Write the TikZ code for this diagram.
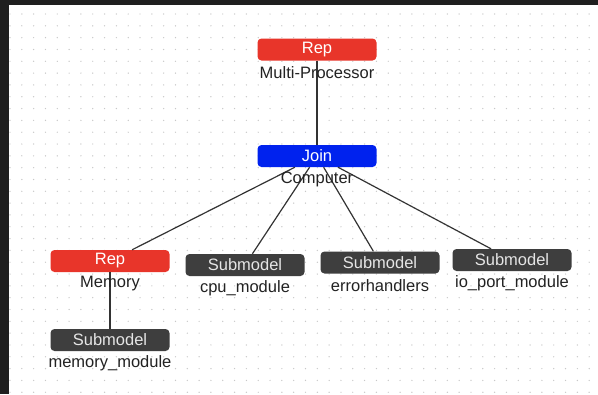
\documentclass[tikz,border=0pt]{standalone}
\usepackage{fontspec}
\setmainfont{Liberation Sans}
\definecolor{frame}{HTML}{1F1F1F}
\definecolor{repred}{HTML}{E8352A}
\definecolor{joinblue}{HTML}{0022EE}
\definecolor{subgray}{HTML}{3E3E3E}
\definecolor{griddot}{HTML}{C8C8C8}
\definecolor{edge}{HTML}{333333}
\definecolor{labeltext}{HTML}{222222}
\tikzset{
  box/.style={rectangle, rounded corners=4bp, minimum width=119bp, minimum height=22bp,
    inner sep=0pt, text=white, font=\fontsize{16.5bp}{18bp}\selectfont},
  repbox/.style={box, fill=repred},
  joinbox/.style={box, fill=joinblue},
  subbox/.style={box, fill=subgray, text=white!90!black},
  caption/.style={inner sep=0pt, text=labeltext, font=\fontsize{16.5bp}{18bp}\selectfont},
  link/.style={draw=edge, line width=1.2bp},
}
\begin{document}
\begin{tikzpicture}[x=1bp, y=-1bp]
\useasboundingbox (0,0) rectangle (598,394);
% window frame and canvas
\fill[frame] (0,0) rectangle (598,394);
\fill[white] (8.5,4.5) rectangle (598,394);
% dotted grid
\foreach \i in {0,...,49} {
  \foreach \j in {0,...,32} {
    \fill[griddot] ({10+\i*11.82},{14+\j*11.82}) circle (0.7bp);
  }
}
% blocks
\node[repbox]  (mp)   at (317,49.5) {Rep};
\node[joinbox] (comp) at (317,156)  {Join};
\node[repbox]  (mem)  at (110,261)  {Rep};
\node[subbox]  (cpu)  at (245,265)  {Submodel};
\node[subbox]  (err)  at (380,262.5){Submodel};
\node[subbox]  (io)   at (512,260)  {Submodel};
\node[subbox]  (mm)   at (110,340)  {Submodel};
% connectors
\draw[link] (mp.south) -- (comp.north);
\draw[link] (comp) -- (mem);
\draw[link] (comp) -- (cpu);
\draw[link] (comp) -- (err);
\draw[link] (comp) -- (io);
\draw[link] (mem.south) -- (mm.north);
% block names
\node[caption] (mpl)   at (317,72.5)  {Multi-Processor};
\node[caption] (compl) at (317,179)   {Computer};
\node[caption] (meml)  at (110,284)   {Memory};
\node[caption] (cpul)  at (245,288)   {cpu\_module};
\node[caption] (errl)  at (380,285.5) {errorhandlers};
\node[caption] (iol)   at (512,283)   {io\_port\_module};
\node[caption] (mml)   at (110,363)   {memory\_module};
\end{tikzpicture}
\end{document}
